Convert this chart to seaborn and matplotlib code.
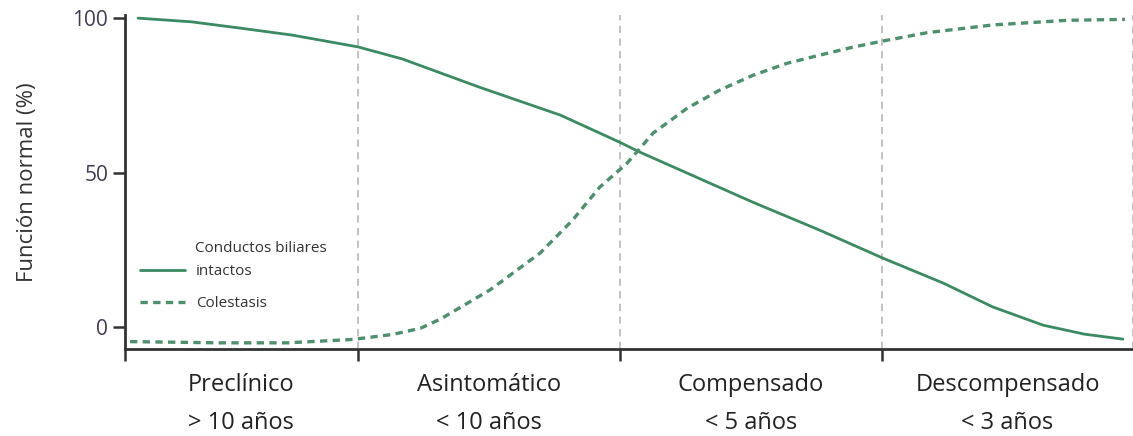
import numpy as np
import pandas as pd
import matplotlib
matplotlib.use("Agg")
import matplotlib.pyplot as plt
import seaborn as sns

sns.set_style("white")
plt.rcParams['font.family'] = ['Open Sans', 'DejaVu Sans']

# stage boundaries on a 0-100 axis
bounds = [0, 23.1, 49.1, 75.1, 100]
stage_names = ["Preclínico", "Asintomático", "Compensado", "Descompensado"]
stage_years = ["> 10 años", "< 10 años", "< 5 años", "< 3 años"]

# Conductos biliares intactos
x_intact = [1.3, 6.6, 11.6, 16.6, 23.1, 27.5, 35.2, 43.2, 49.1, 51.1,
            55.8, 62.3, 68.9, 75.2, 81.2, 86.1, 91.1, 95.2, 99.0]
y_intact = [100, 98.8, 96.7, 94.5, 90.7, 86.8, 77.6, 68.6, 59.8, 56.6,
            49.8, 40.4, 31.4, 22.3, 14.2, 6.5, 0.6, -2.3, -3.9]

# Colestasis
x_col = [0.5, 9.4, 16.1, 22.6, 26.5, 29.3, 31.3, 36.2, 41.2, 44.4, 47.1, 49.8,
         52.4, 55.8, 59.0, 62.3, 65.7, 68.9, 72.2, 75.2, 79.6, 86.1, 93.5, 99.2]
y_col = [-4.7, -5.1, -5.1, -4.0, -2.4, -0.4, 2.6, 12.0, 24.0, 34.6, 45.3, 53.0,
         62.8, 70.9, 76.7, 81.5, 85.4, 88.0, 90.6, 92.6, 95.3, 97.8, 99.3, 99.6]

df_intact = pd.DataFrame({'x': x_intact, 'y': y_intact})
df_col = pd.DataFrame({'x': x_col, 'y': y_col})

green = '#3b8a62'

fig = plt.figure(figsize=(11.33, 4.36), dpi=100)
ax = fig.add_axes([0.1103, 0.1995, 0.8897, 0.766])

for b in bounds[1:]:
    ax.axvline(b, color='#bdbdbd', linestyle=(0, (4, 3)), linewidth=1.3, zorder=1)

sns.lineplot(data=df_intact, x='x', y='y', color=green, linewidth=2.0,
             label='intactos', ax=ax, zorder=3)
sns.lineplot(data=df_col, x='x', y='y', color='#4e8f6d', linewidth=2.4,
             linestyle=(0, (2.2, 1.6)), label='Colestasis', ax=ax, zorder=3)

ax.set_xlim(0, 100)
ax.set_ylim(-7.1, 101.0)
ax.set_yticks([0, 50, 100])
ax.set_yticklabels(['0', '50', '100'], fontsize=15, color='#443c52')
ax.set_xticks(bounds[:-1])
ax.set_xticklabels([])
ax.tick_params(axis='x', direction='out', length=8.5, width=1.8,
               color='#333333', bottom=True)
ax.tick_params(axis='y', direction='out', length=9, width=1.8, pad=3,
               color='#333333', left=True)

for s in ['top', 'right']:
    ax.spines[s].set_visible(False)
for s in ['left', 'bottom']:
    ax.spines[s].set_color('#333333')
    ax.spines[s].set_linewidth(2)

for i in range(len(stage_names)):
    xc = (bounds[i] + bounds[i + 1]) / 2
    ax.text(xc, -0.108, stage_names[i], transform=ax.get_xaxis_transform(),
            ha='center', va='center', fontsize=17, color='#222222')
    ax.text(xc, -0.222, stage_years[i], transform=ax.get_xaxis_transform(),
            ha='center', va='center', fontsize=17, color='#222222')

ax.set_xlabel('')
ax.set_ylabel('Función normal (%)', fontsize=16, color='#333333', labelpad=25)

ax.legend(loc='center left', bbox_to_anchor=(0.015, 0.183), frameon=False,
          fontsize=11, handlelength=2.95, handletextpad=0.7, labelspacing=1.1,
          borderpad=0, borderaxespad=0, labelcolor='#333333')
ax.text(0.069, 0.302, 'Conductos biliares', transform=ax.transAxes,
        ha='left', va='center', fontsize=11, color='#333333')

fig.savefig('out.png', dpi=100)
